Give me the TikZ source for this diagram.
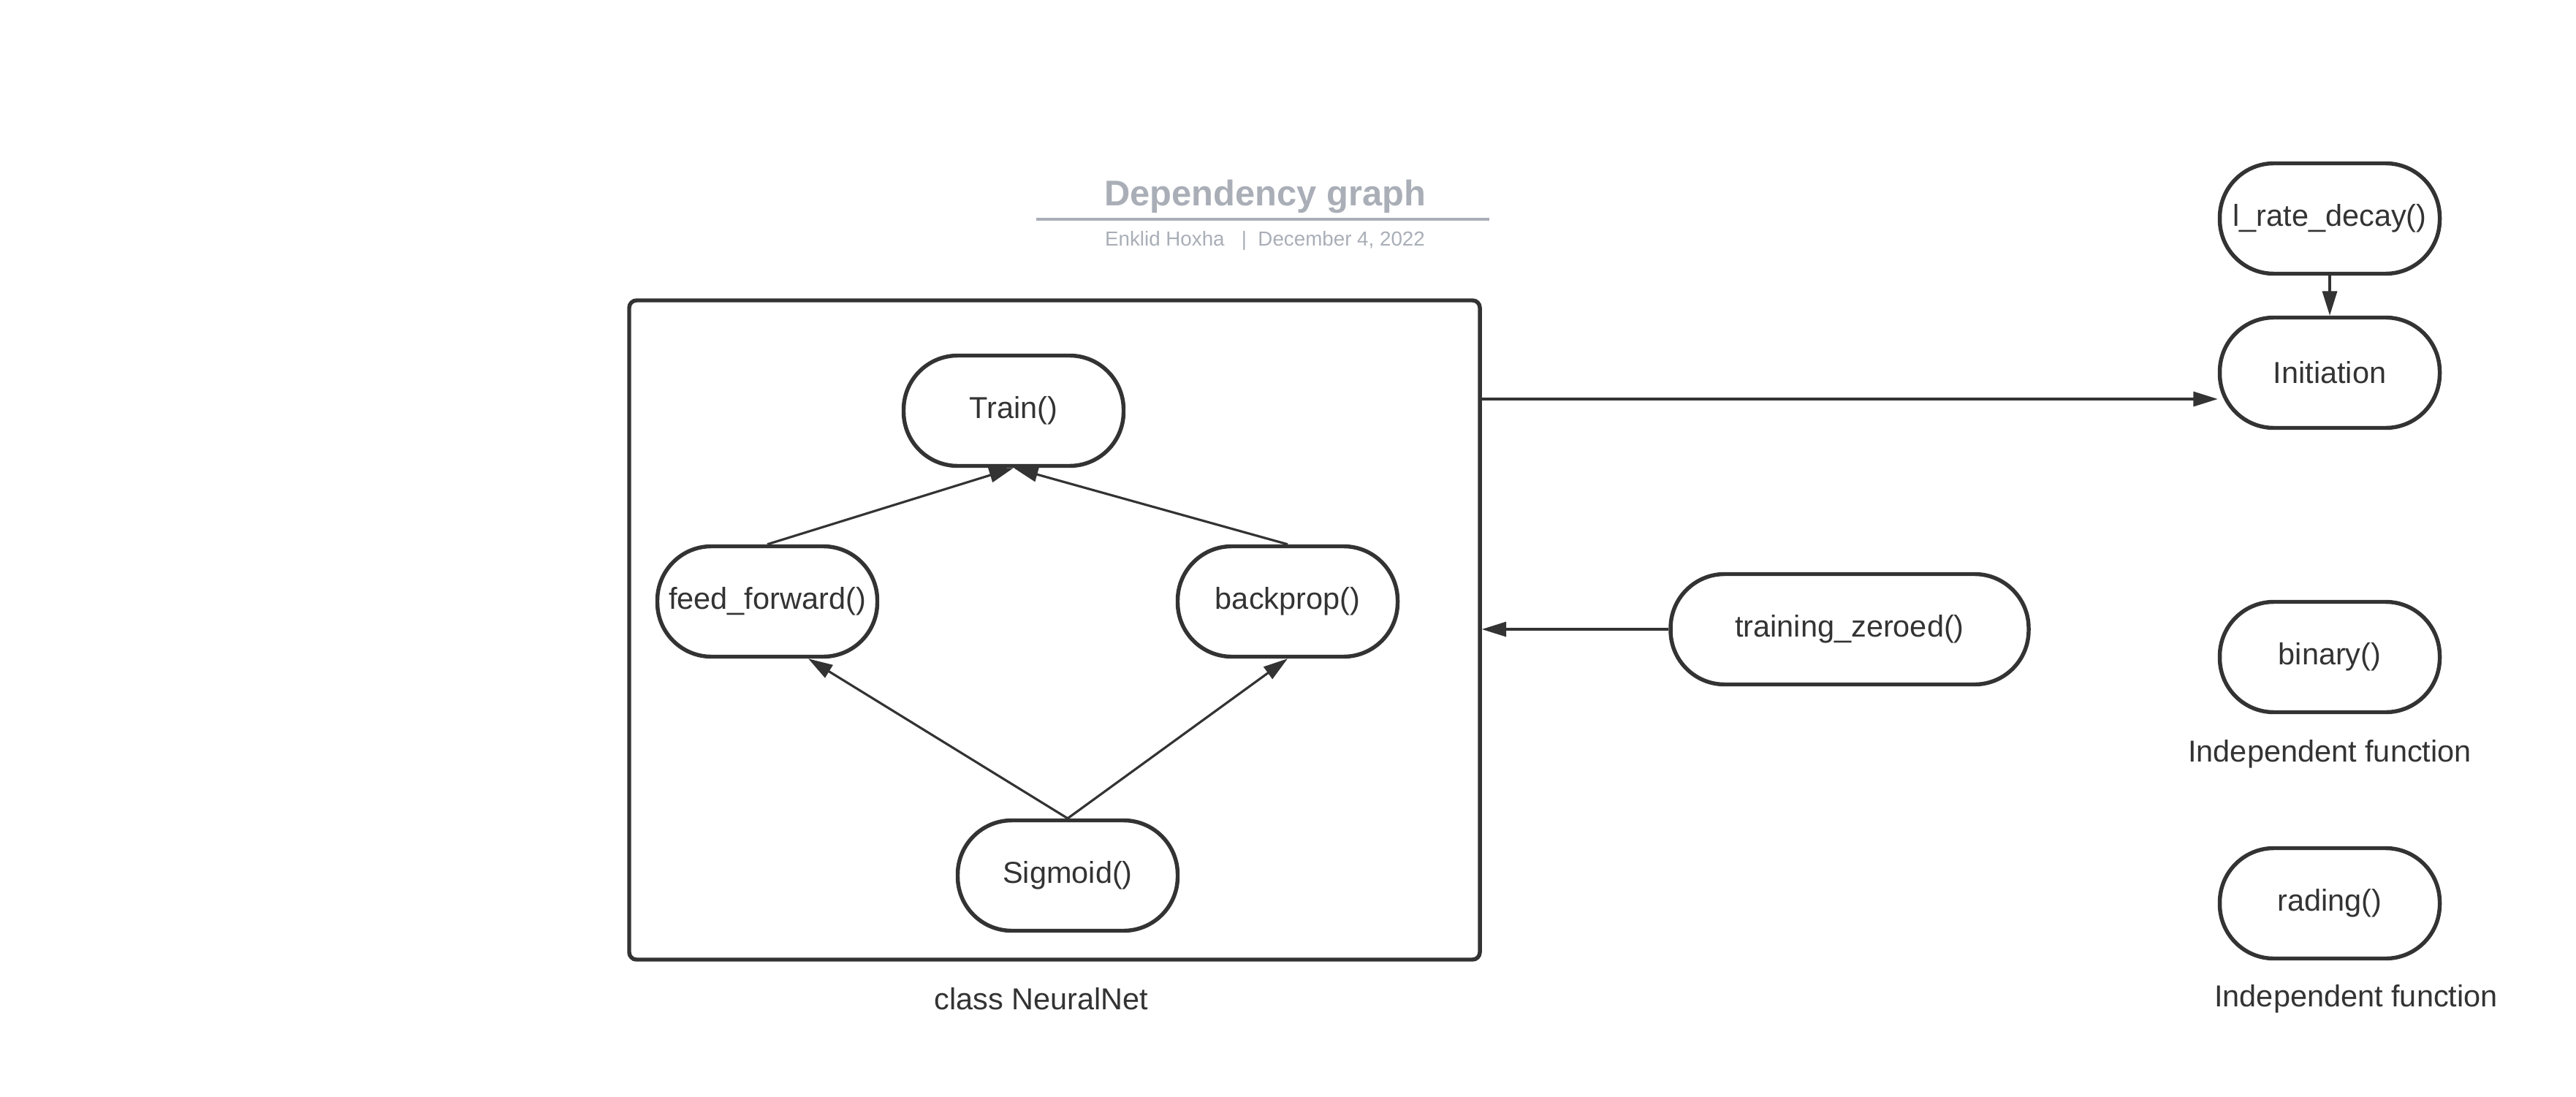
\documentclass[tikz,border=0pt]{standalone}
\usepackage{fontspec}
\setmainfont{Liberation Sans}
\usepackage{xcolor}
\usetikzlibrary{arrows.meta,positioning}
\definecolor{ink}{HTML}{333333}
\definecolor{titlegray}{HTML}{A9AEB7}
\tikzset{>={Triangle[length=9.5pt,width=5.7pt]}}

\begin{document}
\begin{tikzpicture}[fn/.style={draw=ink, line width=1.55pt, rounded corners=0.74cm,
                               minimum width=3.01cm, minimum height=1.51cm, inner sep=0pt,
                               text=ink, font=\fontsize{11.8}{14}\selectfont},
                    classbox/.style={draw=ink, line width=1.55pt, rounded corners=0.1cm,
                                     minimum width=11.64cm, minimum height=9.02cm},
                    caption/.style={text=ink, font=\fontsize{11.8}{14}\selectfont},
                    conn/.style={->, draw=ink, line width=0.9pt},
                   ]

\useasboundingbox (0,0) rectangle (35.25,15);

% heading
\node[anchor=base, text=titlegray, font=\fontsize{13.9}{16}\selectfont\bfseries] (title) at (17.31,12.18) {Dependency graph};
\coordinate (ruleL) at (14.18,12.0);
\coordinate (ruleR) at (20.38,12.0);
\draw[titlegray, line width=1.1pt] (ruleL) -- (ruleR);
\node[anchor=base, text=titlegray, font=\fontsize{7.9}{9}\selectfont] (author) at (17.31,11.63) {Enklid Hoxha \ \ |\ \ December 4, 2022};

% class NeuralNet
\node[classbox] (nnet) at (14.43,6.38) {};
\node[caption] (nnetlabel) at (14.25,1.33) {class NeuralNet};

\node[fn] (train) at (13.87,9.38) {Train()};
\node[fn] (ff) at (10.50,6.77) {feed\_forward()};
\node[fn] (bp) at (17.62,6.77) {backprop()};
\node[fn] (sig) at (14.61,3.02) {Sigmoid()};

\draw[conn] (ff.north) -- (train.south);
\draw[conn] (bp.north) -- (train.south);
\draw[conn] (sig.north) -- ([xshift=0.56cm]ff.south);
\draw[conn] (sig.north) -- (bp.south);

% outside the class
\node[fn, minimum width=4.9cm] (tz) at (25.31,6.39) {training\_zeroed()};
\node[fn] (lrd) at (31.88,12.01) {l\_rate\_decay()};
\node[fn] (init) at (31.88,9.90) {Initiation};
\node[fn] (bin) at (31.88,6.01) {binary()};
\node[caption] (binlabel) at (31.88,4.68) {Independent function};
\node[fn] (rad) at (31.88,2.64) {rading()};
\node[caption] (radlabel) at (32.24,1.33) {Independent function};

\draw[conn] (lrd.south) -- (init.north);
\draw[conn] ([yshift=-0.36cm]init.west -| nnet.east) -- ([yshift=-0.36cm]init.west);
\draw[conn] (tz.west) -- (tz.west -| nnet.east);

\end{tikzpicture}
\end{document}
